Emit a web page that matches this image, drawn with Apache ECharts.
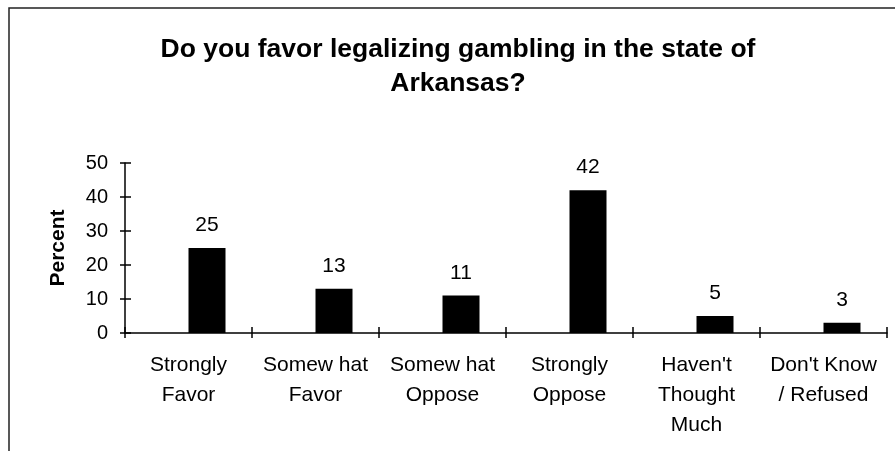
<!DOCTYPE html>
<html><head><meta charset="utf-8">
<script src="https://cdn.jsdelivr.net/npm/echarts@6/dist/echarts.min.js"></script>
<style>html,body{margin:0;padding:0;background:#fff}#c{width:895px;height:451px}</style>
</head><body><div id="c"></div>
<script>
const titleText = 'Do you favor legalizing gambling in the state of\nArkansas?';
const categories = ['Strongly\nFavor', 'Somew hat\nFavor', 'Somew hat\nOppose', 'Strongly\nOppose', "Haven't\nThought\nMuch", "Don't Know\n/ Refused"];
const percentValues = [25, 13, 11, 42, 5, 3];
const emptyValues = [null, null, null, null, null, null];
const yMin = 0, yMax = 50, yInterval = 10;

const font = 'Liberation Sans, Arial, sans-serif';
const chart = echarts.init(document.getElementById('c'));
chart.setOption({
  animation: false,
  backgroundColor: '#fff',
  title: {
    text: titleText, left: 453, top: 28, textAlign: 'center',
    textStyle: { fontFamily: font, fontSize: 26.5, fontWeight: 'bold', color: '#000', lineHeight: 34 }
  },
  graphic: [{ type: 'rect', shape: { x: 9, y: 8, width: 1000, height: 1000 }, style: { fill: 'none', stroke: '#222', lineWidth: 1.5 }, silent: true }],
  grid: { left: 125, right: 8, top: 163, bottom: 118 },
  xAxis: [{
    type: 'category', data: categories,
    axisLine: { lineStyle: { color: '#000', width: 1.5 } },
    axisTick: { show: true, length: 5, lineStyle: { color: '#000', width: 1.5 } },
    axisLabel: { interval: 0, fontFamily: font, fontSize: 21, color: '#000', lineHeight: 30, margin: 17 }
  }, {
    type: 'category', data: categories, position: 'bottom',
    axisLine: { show: false },
    axisTick: { show: true, inside: true, length: 6, lineStyle: { color: '#000', width: 1.5 } },
    axisLabel: { show: false }
  }],
  yAxis: [{
    type: 'value', min: yMin, max: yMax, interval: yInterval,
    name: 'Percent', nameLocation: 'middle', nameRotate: 90, nameGap: 56,
    nameTextStyle: { fontFamily: font, fontSize: 21, fontWeight: 'bold', color: '#000' },
    splitLine: { show: false },
    axisLine: { show: true, lineStyle: { color: '#000', width: 1.5 } },
    axisTick: { show: true, length: 5, lineStyle: { color: '#000', width: 1.5 } },
    axisLabel: { fontFamily: font, fontSize: 20, color: '#000', margin: 17 }
  }, {
    type: 'value', min: yMin, max: yMax, interval: yInterval, position: 'left',
    splitLine: { show: false },
    axisLine: { show: false },
    axisTick: { show: true, inside: true, length: 6, lineStyle: { color: '#000', width: 1.5 } },
    axisLabel: { show: false }
  }],
  series: [{
    type: 'bar', data: emptyValues, barWidth: 37, barGap: '0%', itemStyle: { color: '#000' }
  }, {
    type: 'bar', data: percentValues, barWidth: 37, barGap: '0%',
    itemStyle: { color: '#000' },
    label: { show: true, position: 'top', distance: 12, fontFamily: font, fontSize: 21, color: '#000' }
  }]
});
</script></body></html>
